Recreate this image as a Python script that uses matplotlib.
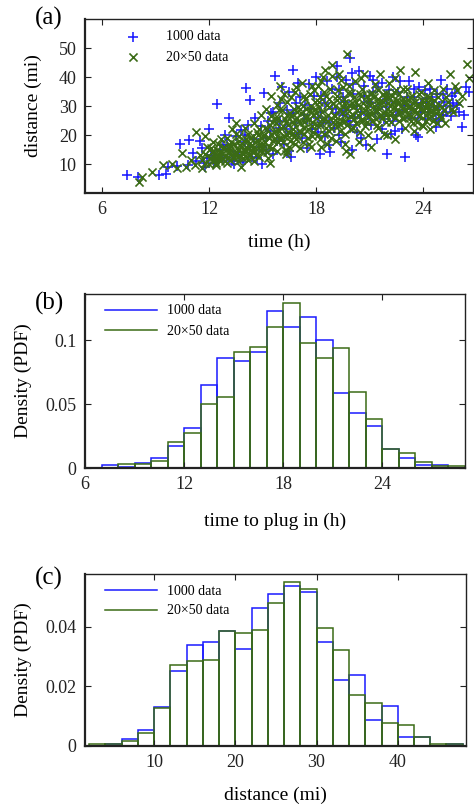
import matplotlib
matplotlib.use('Agg')
import matplotlib.pyplot as plt
from matplotlib.lines import Line2D
import numpy as np

plt.rcParams['font.family'] = ['Liberation Serif', 'DejaVu Serif']

# ---- (a) scatter: time (h) vs distance (mi) ----
# outer / scattered points
blue_t = [7.4, 8.0, 9.2, 9.6, 9.7, 10.2, 10.4, 10.9, 11.1, 11.5, 10.8, 11.3, 11.6, 11.8, 11.9,
          12.0, 12.45, 13.1, 12.3, 12.6, 12.8, 13.0, 13.3, 13.5, 13.6, 13.8, 14.0, 14.1, 14.3, 14.2,
          14.4, 14.6, 14.8, 13.9, 12.9,
          15.0, 15.2, 15.3, 15.5, 15.7, 15.6, 15.9, 16.0, 16.2, 16.4, 16.5, 16.7, 16.6, 16.8, 17.0,
          17.1, 17.3, 17.5, 17.6, 17.8, 15.1, 16.1, 17.4,
          18.0, 18.2, 18.1, 18.3, 18.5, 18.6, 18.8, 18.9, 19.0, 19.2, 19.3, 19.4, 19.6, 19.8, 19.9,
          19.7, 20.0, 20.1, 20.3, 20.4, 20.5, 20.7, 20.8, 20.9, 19.5, 18.4, 20.2,
          21.0, 21.1, 21.2, 21.4, 21.5, 21.7, 21.8, 22.0, 22.0, 22.2, 22.3, 22.5, 22.6, 22.8, 23.0,
          23.0, 23.2, 23.3, 23.5, 23.6, 23.7, 23.8, 23.9,
          24.0, 24.2, 24.1, 24.4, 24.6, 24.7, 24.8, 25.0, 25.1, 25.2, 25.35, 25.5, 25.56, 25.7, 26.2,
          24.9, 25.8, 26.4, 26.0]
blue_d = [6.3, 5.6, 6.3, 6.5, 9.1, 9.2, 16.9, 18.3, 13.7, 18.0, 9.5, 11.2, 15.5, 9.0, 12.0,
          22.2, 30.8, 26.0, 10.5, 14.8, 12.0, 16.5, 11.0, 19.5, 14.0, 21.8, 17.5, 36.2, 32.2, 23.5,
          12.5, 26.0, 15.8, 10.8, 20.0,
          10.0, 19.0, 25.0, 27.5, 40.3, 13.5, 22.5, 31.0, 17.0, 28.5, 35.0, 42.4, 12.5, 24.0, 20.5,
          33.0, 27.0, 15.5, 37.5, 22.0, 34.5, 36.5, 30.5,
          40.0, 13.4, 26.0, 33.5, 19.5, 38.5, 14.0, 29.0, 22.5, 43.7, 35.5, 17.5, 31.5, 25.0, 46.5,
          39.0, 15.0, 34.0, 21.0, 42.0, 28.0, 37.0, 16.5, 31.5, 27.0, 24.0, 26.0,
          40.5, 23.5, 35.0, 18.5, 29.0, 38.0, 25.5, 13.6, 32.5, 20.5, 40.0, 27.0, 35.0, 22.0, 12.5,
          30.5, 38.5, 26.0, 33.0, 20.0, 19.2, 36.5, 28.0,
          31.0, 32.7, 25.5, 36.0, 29.6, 22.6, 34.0, 39.0, 27.0, 31.5, 35.8, 30.0, 26.5, 31.0, 22.9,
          25.0, 34.5, 36.5, 28.0]
# denser core of the blue cloud
blue_core_t = [11.7, 12.1, 12.5, 12.8, 13.2, 13.4, 13.7, 14.0, 14.3, 14.5, 14.7, 14.9,
               15.2, 15.4, 15.6, 15.8, 16.0, 16.3, 16.5, 16.7, 16.9, 17.2, 17.5, 17.7, 17.9, 17.0,
               18.1, 18.3, 18.5, 18.7, 18.9, 19.1, 19.3, 19.5, 19.7, 19.9, 20.1, 20.3, 20.5, 20.7,
               20.9, 19.2, 20.0, 18.7,
               21.1, 21.3, 21.5, 21.7, 21.9, 22.1, 22.3, 22.5, 22.7, 22.9, 21.2, 22.4,
               23.1, 23.3, 23.5, 23.7, 23.9, 24.1, 24.3, 24.5, 24.7, 24.9, 25.1, 25.3, 25.6, 25.9,
               26.3, 26.6]
blue_core_d = [10.5, 13.0, 11.0, 16.5, 14.5, 10.0, 13.0, 20.0, 16.0, 18.5, 12.0, 23.0,
               15.0, 21.5, 28.0, 18.0, 25.0, 22.0, 14.5, 27.5, 31.0, 19.0, 25.5, 29.0, 33.5, 38.0,
               21.0, 28.0, 31.0, 24.5, 36.0, 27.5, 20.0, 33.0, 28.5, 23.5, 37.5, 30.0, 19.0, 33.5,
               27.0, 40.0, 41.5, 16.5,
               31.0, 27.5, 36.5, 22.0, 29.5, 35.5, 25.0, 31.0, 38.5, 28.5, 39.0, 21.5,
               33.0, 29.0, 36.0, 26.0, 31.0, 35.5, 28.0, 33.0, 25.5, 30.0, 34.0, 28.0, 33.5, 30.5,
               27.0, 35.0]

green_t = [8.1, 8.25, 8.8, 9.4, 9.9, 10.5, 11.3, 11.75, 10.7, 11.0, 11.2, 11.5, 11.8, 11.9, 10.2, 11.6,
           12.1, 12.2, 12.4, 12.5, 12.6, 12.8, 12.9, 13.0, 13.1, 13.2, 13.4, 13.5, 13.6, 13.7, 13.8,
           13.9, 14.0, 14.1, 14.2, 14.3, 14.4, 14.5, 14.6, 14.7, 14.8, 14.9, 13.3, 12.7,
           15.0, 15.1, 15.2, 15.3, 15.4, 15.5, 15.6, 15.7, 15.8, 15.9, 16.0, 16.1, 16.2, 16.3, 16.4,
           16.5, 16.6, 16.7, 16.8, 16.9, 17.0, 17.1, 17.2, 17.3, 17.4, 17.5, 17.6, 17.7, 17.8, 17.9,
           15.4, 16.3,
           18.0, 18.1, 18.2, 18.3, 18.4, 18.5, 18.6, 18.7, 18.8, 18.9, 19.0, 19.1, 19.2, 19.3, 19.4,
           19.5, 19.6, 19.73, 19.7, 19.8, 19.9, 20.0, 20.1, 20.2, 20.3, 20.4, 20.5, 20.6, 20.7, 20.8,
           20.9, 19.5, 18.5, 19.9,
           21.0, 21.1, 21.2, 21.3, 21.4, 21.5, 21.6, 21.7, 21.8, 21.9, 22.0, 22.1, 22.2, 22.3, 22.4,
           22.5, 22.6, 22.7, 22.8, 22.9, 23.0, 23.1, 23.2, 23.3, 23.4, 23.56, 23.5, 23.7, 23.8, 23.9,
           24.0, 24.1, 24.2, 24.3, 24.4, 24.5, 24.6, 24.7, 24.8, 24.9, 25.1, 25.2, 25.3, 25.5, 25.6,
           25.8, 26.0, 26.46, 26.6, 24.3, 25.0]
green_d = [3.7, 5.5, 7.4, 9.6, 10.0, 13.9, 20.9, 19.5, 9.0, 11.5, 9.5, 13.0, 10.5, 16.0, 8.5, 8.8,
           12.0, 14.5, 10.5, 17.0, 13.0, 15.5, 11.0, 19.0, 13.8, 16.5, 12.0, 20.5, 15.0, 17.8, 8.9,
           13.5, 22.5, 16.0, 11.5, 19.0, 14.5, 24.0, 17.5, 21.0, 12.5, 27.0, 22.0, 18.5,
           15.5, 20.0, 29.0, 12.0, 23.5, 33.5, 18.0, 26.0, 14.5, 21.5, 37.0, 28.5, 19.5, 24.5, 31.5,
           16.0, 26.5, 22.0, 35.0, 18.5, 29.5, 24.0, 38.0, 20.5, 32.5, 26.5, 17.0, 30.0, 23.0, 35.5,
           10.5, 13.5,
           27.5, 20.0, 33.0, 16.0, 40.0, 25.5, 30.5, 21.5, 36.0, 44.2, 27.0, 18.0, 32.0, 24.0, 39.0,
           29.5, 20.5, 47.9, 14.6, 34.5, 26.5, 31.0, 22.5, 38.5, 28.5, 17.5, 33.5, 25.0, 41.0, 30.0,
           20.0, 36.5, 42.5, 13.4,
           34.0, 15.7, 27.5, 37.5, 23.5, 31.0, 41.0, 26.0, 20.5, 34.5, 29.0, 38.0, 24.5, 31.5, 18.5,
           35.5, 28.0, 42.5, 26.0, 32.5, 22.5, 36.0, 29.5, 25.0, 33.5, 41.9, 21.5, 30.0, 26.5, 35.0,
           23.0, 29.5, 33.5, 26.0, 22.0, 31.0, 35.5, 27.5, 24.0, 30.5, 36.0, 28.5, 33.0, 41.0, 29.0,
           37.0, 31.2, 44.5, 39.7, 38.0, 26.0]
# denser core of the green cloud
green_core_t = [11.6, 11.8, 12.0, 12.1, 12.3, 12.4, 12.6, 12.7, 12.9, 13.0, 12.2, 12.5,
                13.1, 13.2, 13.3, 13.4, 13.5, 13.6, 13.7, 13.8, 13.9, 14.0, 14.1, 14.2, 14.3, 14.4,
                14.5, 14.6, 14.7, 14.8, 14.9, 14.95, 13.5,
                15.05, 15.15, 15.25, 15.35, 15.45, 15.55, 15.65, 15.75, 15.85, 15.95, 16.05, 16.15,
                16.25, 16.35, 16.45, 16.55, 16.65, 16.75, 16.85, 16.95, 16.05, 16.6, 15.8,
                17.05, 17.15, 17.25, 17.35, 17.45, 17.55, 17.65, 17.75, 17.85, 17.95, 18.05, 18.15,
                18.25, 18.35, 18.45, 18.55, 18.65, 18.75, 18.85, 18.95, 18.1, 17.6, 18.6,
                19.05, 19.15, 19.25, 19.35, 19.45, 19.55, 19.65, 19.75, 19.85, 19.95, 20.05, 20.15,
                20.25, 20.35, 20.45, 20.55, 20.65, 20.75, 20.85, 20.95, 19.3, 20.5, 19.6,
                21.05, 21.15, 21.25, 21.35, 21.45, 21.55, 21.65, 21.75, 21.85, 21.95, 22.05, 22.15,
                22.25, 22.35, 22.45, 22.55, 22.65, 22.75, 22.85, 22.95, 21.5, 22.4, 22.0,
                23.05, 23.15, 23.25, 23.35, 23.45, 23.55, 23.65, 23.75, 23.85, 23.95, 24.05, 24.15,
                24.25, 24.35, 24.45, 24.55,
                24.65, 24.85, 25.05, 25.25, 25.4, 25.7, 25.9, 26.2]
green_core_d = [11.5, 13.5, 10.0, 15.5, 12.5, 9.5, 11.0, 14.0, 12.8, 10.5, 17.5, 13.0,
                15.5, 11.5, 13.0, 17.0, 14.0, 11.0, 19.5, 15.8, 12.0, 14.0, 18.5, 20.5, 13.0, 16.5,
                11.0, 14.5, 18.0, 22.0, 15.0, 19.0, 24.0,
                17.0, 22.5, 14.0, 19.0, 26.5, 15.5, 21.0, 24.0, 17.5, 28.5, 19.0, 23.0,
                15.0, 27.0, 21.0, 18.0, 24.5, 29.0, 20.0, 26.0, 32.5, 33.0, 30.5,
                21.5, 27.5, 17.5, 24.5, 29.0, 22.0, 34.0, 19.5, 27.0, 31.5, 23.5, 29.5,
                18.5, 25.5, 35.0, 22.5, 27.0, 32.5, 19.0, 24.5, 37.0, 25.5, 17.0,
                30.0, 24.5, 35.5, 21.5, 27.5, 32.5, 25.0, 29.0, 37.0, 22.0, 27.0, 33.0,
                24.0, 30.5, 21.0, 36.0, 28.0, 23.0, 33.5, 26.5, 41.0, 39.5, 17.0,
                30.5, 25.0, 33.0, 28.5, 35.5, 26.5, 31.0, 34.0, 28.0, 24.5, 33.0, 30.0,
                27.5, 35.0, 29.5, 32.0, 25.0, 30.0, 36.0, 28.5, 22.5, 39.5, 20.0,
                30.5, 27.0, 33.0, 29.0, 24.0, 31.5, 27.5, 34.0, 29.0, 23.5, 31.5, 27.0,
                30.0, 33.0, 28.0, 25.0,
                30.0, 33.0, 29.5, 24.0, 31.5, 28.0, 35.5, 33.5]
# densest middle of the green band
green_mid_t = [12.05, 12.15, 12.35, 12.45, 12.55, 12.75, 12.85, 13.05, 13.15, 13.25, 13.45, 13.55,
               13.65, 13.75, 13.85, 13.95,
               14.05, 14.15, 14.25, 14.35, 14.45, 14.55, 14.65, 14.75, 14.85, 14.95, 15.05, 15.15,
               15.25, 15.35, 15.45, 15.55, 15.65, 15.75, 15.85, 15.95,
               16.05, 16.15, 16.25, 16.35, 16.45, 16.55, 16.65, 16.75, 16.85, 16.95, 17.05, 17.15,
               17.25, 17.35, 17.45, 17.55, 17.65, 17.75, 17.85, 17.95,
               18.05, 18.15, 18.25, 18.35, 18.45, 18.55, 18.65, 18.75, 18.85, 18.95, 19.05, 19.15,
               19.25, 19.35, 19.45, 19.55, 19.65, 19.75, 19.85, 19.95,
               20.05, 20.15, 20.25, 20.35, 20.45, 20.55, 20.65, 20.75, 20.85, 20.95, 21.05, 21.15,
               21.25, 21.35, 21.45, 21.55, 21.65, 21.75, 21.85, 21.95,
               22.05, 22.15, 22.25, 22.35, 22.45, 22.55, 22.65, 22.75, 22.85, 22.95, 23.05, 23.15,
               23.25, 23.35, 23.45, 23.55, 23.65, 23.75, 23.85, 23.95,
               24.05, 24.15, 24.25, 24.35, 24.45, 24.6, 24.75, 24.95,
               16.2, 16.9, 17.3, 17.8, 18.3, 18.9, 16.4, 17.1, 17.7]
green_mid_d = [12.0, 14.0, 11.5, 15.0, 12.0, 13.5, 16.0, 12.5, 14.5, 17.5, 13.0, 15.5,
               12.5, 16.5, 14.0, 18.0,
               15.0, 12.5, 17.0, 15.0, 19.5, 16.0, 13.0, 20.0, 17.0, 14.0, 19.5, 17.5,
               22.0, 16.0, 20.5, 24.5, 18.5, 21.5, 26.0, 19.0,
               22.5, 17.5, 25.5, 20.0, 23.5, 27.5, 20.5, 24.0, 17.0, 28.0, 25.0, 21.0,
               30.0, 22.5, 26.0, 19.0, 28.5, 24.5, 21.0, 29.0,
               26.0, 31.5, 23.5, 28.0, 20.5, 33.5, 25.0, 29.5, 22.5, 31.0, 26.5, 33.5,
               23.0, 29.0, 25.0, 31.0, 27.0, 23.5, 30.5, 34.5,
               29.5, 25.5, 31.5, 27.0, 34.0, 25.5, 31.0, 28.5, 24.5, 32.0, 27.5, 34.5,
               30.0, 25.5, 32.5, 29.0, 27.0, 31.5, 33.0, 27.0,
               31.0, 27.0, 33.5, 29.5, 26.0, 31.0, 34.0, 28.0, 31.5, 26.0, 28.5, 32.0,
               30.0, 26.5, 31.0, 28.5, 24.5, 30.5, 27.0, 32.0,
               28.5, 25.0, 31.5, 29.0, 26.5, 32.0, 29.0, 27.0,
               34.0, 36.5, 33.5, 37.0, 38.5, 40.5, 14.5, 15.5, 16.0]

# ---- (b) histogram of time to plug in (h), 1 h bins from 7 to 29 ----
time_edges = np.arange(7, 30, 1)
time_pdf_1000 = [0.0024, 0.0004, 0.0036, 0.008, 0.017, 0.0315, 0.065, 0.086, 0.084, 0.0904, 0.1224,
                 0.110, 0.118, 0.100, 0.0589, 0.0427, 0.033, 0.0151, 0.0078, 0.0026, 0.0026, 0.0]
time_pdf_2050 = [0.0, 0.0035, 0.0035, 0.0052, 0.020, 0.0276, 0.050, 0.0557, 0.091, 0.0945, 0.110,
                 0.129, 0.0977, 0.086, 0.0938, 0.0596, 0.0385, 0.0151, 0.0115, 0.0047, 0.0016, 0.0016]

# ---- (c) histogram of distance (mi), 2 mi bins from 2 to 48 ----
dist_edges = np.arange(2, 50, 2)
dist_pdf_1000 = [0.0, 0.0007, 0.0022, 0.0053, 0.013, 0.0253, 0.0341, 0.0349, 0.0385, 0.0325, 0.0464,
                 0.051, 0.0536, 0.0516, 0.0349, 0.0222, 0.024, 0.0088, 0.0136, 0.0031, 0.0029, 0.0, 0.0007]
dist_pdf_2050 = [0.0007, 0.0007, 0.0016, 0.0045, 0.0126, 0.0272, 0.0287, 0.029, 0.0385, 0.038, 0.039,
                 0.0482, 0.0552, 0.0528, 0.0398, 0.0324, 0.0171, 0.0145, 0.0076, 0.0072, 0.0031, 0.0007, 0.0007]

labels = ['1000 data', '20\u00d750 data']
c_blue = '#1a1aff'
c_green = '#3b6b16'

fig = plt.figure(figsize=(4.74, 8.09), dpi=100)
ax_a = fig.add_axes([0.1793, 0.7614, 0.8186, 0.2151])
ax_b = fig.add_axes([0.1793, 0.4215, 0.8017, 0.2151])
ax_c = fig.add_axes([0.1793, 0.0779, 0.8038, 0.2126])


def style(ax):
    ax.tick_params(direction='in', top=True, right=True, length=4, width=0.8,
                   labelsize=13, pad=6, colors='#222222')
    for s in ax.spines.values():
        s.set_linewidth(1.0)
        s.set_color('#222222')
    ax.spines['left'].set_linewidth(1.6)
    ax.spines['bottom'].set_linewidth(1.6)


line_handles = [Line2D([0], [0], color=c_blue, lw=1.1), Line2D([0], [0], color=c_green, lw=1.1)]

# (a)
ax_a.scatter(blue_t + blue_core_t, blue_d + blue_core_d, marker='+', s=45, c=c_blue,
             linewidths=1.15, label=labels[0])
ax_a.scatter(green_t + green_core_t + green_mid_t, green_d + green_core_d + green_mid_d,
             marker='x', s=34, c=c_green, linewidths=1.2, label=labels[1])
ax_a.set_xlim(5.05, 26.8)
ax_a.set_ylim(0, 60)
ax_a.set_xticks([6, 12, 18, 24])
ax_a.set_yticks([10, 20, 30, 40, 50])
ax_a.set_xlabel('time (h)', fontsize=14, labelpad=11)
ax_a.set_ylabel('distance (mi)', fontsize=14, labelpad=12)
style(ax_a)
ax_a.legend(loc='upper left', bbox_to_anchor=(0.106, 0.935), frameon=False, fontsize=10,
            handlelength=1.0, handletextpad=1.9, labelspacing=0.55, borderpad=0, borderaxespad=0)

# (b)
w = np.diff(time_edges)
ax_b.bar(time_edges[:-1], time_pdf_1000, width=w, align='edge', fill=False,
         edgecolor=c_blue, linewidth=1.1)
ax_b.bar(time_edges[:-1], time_pdf_2050, width=w, align='edge', fill=False,
         edgecolor=c_green, linewidth=1.1)
ax_b.set_xlim(6, 29)
ax_b.set_ylim(0, 0.136)
ax_b.set_xticks([6, 12, 18, 24])
ax_b.set_yticks([0, 0.05, 0.1])
ax_b.set_yticklabels(['0', '0.05', '0.1'])
ax_b.set_xlabel('time to plug in (h)', fontsize=14, labelpad=14)
ax_b.set_ylabel('Density (PDF)', fontsize=14, labelpad=10)
style(ax_b)
ax_b.legend(line_handles, labels, loc='upper left', bbox_to_anchor=(0.053, 0.94), frameon=False,
            fontsize=10, handlelength=3.75, handletextpad=0.7, labelspacing=0.55, borderpad=0,
            borderaxespad=0)

# (c)
w = np.diff(dist_edges)
ax_c.bar(dist_edges[:-1], dist_pdf_1000, width=w, align='edge', fill=False,
         edgecolor=c_blue, linewidth=1.1)
ax_c.bar(dist_edges[:-1], dist_pdf_2050, width=w, align='edge', fill=False,
         edgecolor=c_green, linewidth=1.1)
ax_c.set_xlim(1.5, 48.4)
ax_c.set_ylim(0, 0.0578)
ax_c.set_xticks([10, 20, 30, 40])
ax_c.set_yticks([0, 0.02, 0.04])
ax_c.set_yticklabels(['0', '0.02', '0.04'])
ax_c.set_xlabel('distance (mi)', fontsize=14, labelpad=11)
ax_c.set_ylabel('Density (PDF)', fontsize=14, labelpad=10)
style(ax_c)
ax_c.legend(line_handles, labels, loc='upper left', bbox_to_anchor=(0.053, 0.935), frameon=False,
            fontsize=10, handlelength=3.75, handletextpad=0.7, labelspacing=0.45, borderpad=0,
            borderaxespad=0)

for txt, ypx in [('(a)', 18), ('(b)', 303), ('(c)', 578)]:
    fig.text(49 / 474, 1 - ypx / 809, txt, fontsize=18, ha='center', va='center')

fig.savefig('out.png', dpi=100)
